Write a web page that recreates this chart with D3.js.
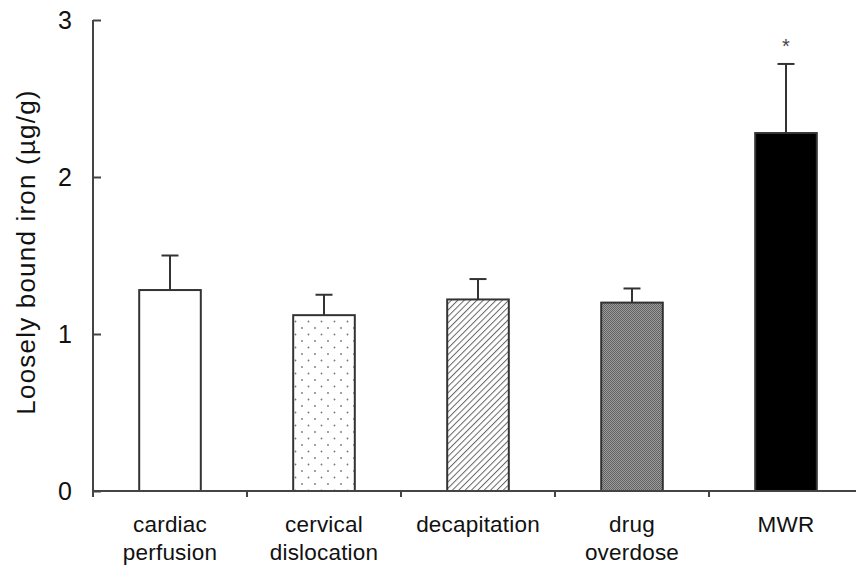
<!DOCTYPE html>
<html>
<head>
<meta charset="utf-8">
<script src="https://cdn.jsdelivr.net/npm/d3@7"></script>
<style>
  html, body { margin: 0; padding: 0; background: #fff; }
  svg { display: block; font-family: "Liberation Sans", Arial, sans-serif; }
</style>
</head>
<body>
<svg id="chart" width="856" height="573"></svg>
<script>
// ---- data ----
const categories = [["cardiac", "perfusion"], ["cervical", "dislocation"], ["decapitation"], ["drug", "overdose"], ["MWR"]];
const categoryKeys = ["cardiac perfusion", "cervical dislocation", "decapitation", "drug overdose", "MWR"];
const means = [1.28, 1.12, 1.22, 1.20, 2.28];
const errors = [0.22, 0.13, 0.13, 0.09, 0.44];
const significant = [false, false, false, false, true];
const yTicks = [0, 1, 2, 3];
const yLabel = "Loosely bound iron (µg/g)";

const svg = d3.select("#chart");
const mLeft = 93, mRight = 863, mTop = 20, mBottom = 491;

// patterns
const defs = svg.append("defs");
const dots = defs.append("pattern").attr("id", "dots").attr("patternUnits", "userSpaceOnUse")
  .attr("width", 13).attr("height", 13);
dots.append("rect").attr("width", 13).attr("height", 13).attr("fill", "#fff");
dots.append("circle").attr("cx", 3).attr("cy", 3).attr("r", 0.9).attr("fill", "#777");
dots.append("circle").attr("cx", 9.5).attr("cy", 9.5).attr("r", 0.9).attr("fill", "#777");

const hatch = defs.append("pattern").attr("id", "hatch").attr("patternUnits", "userSpaceOnUse")
  .attr("width", 4.5).attr("height", 4.5).attr("patternTransform", "rotate(45)");
hatch.append("rect").attr("width", 4.5).attr("height", 4.5).attr("fill", "#fff");
hatch.append("line").attr("x1", 0).attr("y1", 0).attr("x2", 0).attr("y2", 4.5)
  .attr("stroke", "#666").attr("stroke-width", 2);

const dense = defs.append("pattern").attr("id", "dense").attr("patternUnits", "userSpaceOnUse")
  .attr("width", 2).attr("height", 2);
dense.append("rect").attr("width", 2).attr("height", 2).attr("fill", "#9a9a9a");
dense.append("rect").attr("width", 1).attr("height", 1).attr("fill", "#636363");
dense.append("rect").attr("x", 1).attr("y", 1).attr("width", 1).attr("height", 1).attr("fill", "#636363");

const fills = ["#fff", "url(#dots)", "url(#hatch)", "url(#dense)", "#000"];

const x = d3.scaleBand().domain(categoryKeys).range([mLeft, mRight])
  .paddingInner(0.6).paddingOuter(0.3);
const y = d3.scaleLinear().domain([0, 3]).range([mBottom, mTop]);
const step = x.step();

// bars
const g = svg.append("g");
categoryKeys.forEach((k, i) => {
  const bx = x(k), bw = x.bandwidth(), cx = bx + bw / 2;
  g.append("line").attr("x1", cx).attr("x2", cx).attr("y1", y(means[i])).attr("y2", y(means[i] + errors[i]))
    .attr("stroke", "#333").attr("stroke-width", 2);
  g.append("line").attr("x1", cx - 8.5).attr("x2", cx + 8.5)
    .attr("y1", y(means[i] + errors[i])).attr("y2", y(means[i] + errors[i]))
    .attr("stroke", "#333").attr("stroke-width", 2);
  g.append("rect").attr("x", bx).attr("y", y(means[i])).attr("width", bw)
    .attr("height", y(0) - y(means[i])).attr("fill", fills[i])
    .attr("stroke", "#333").attr("stroke-width", 2);
  if (significant[i]) {
    g.append("text").attr("x", cx).attr("y", y(means[i] + errors[i]) - 11)
      .attr("text-anchor", "middle").attr("font-size", 20).attr("fill", "#444").text("*");
  }
});

// y axis
const yAxis = d3.axisLeft(y).tickValues(yTicks).tickFormat(d3.format("d")).tickSize(-8).tickPadding(21);
const ya = svg.append("g").attr("transform", `translate(${mLeft},0)`).call(yAxis);
ya.select(".domain").attr("stroke", "#444").attr("stroke-width", 2).attr("d", `M0,${mTop}V${mBottom + 6}`);
ya.selectAll(".tick line").attr("stroke", "#444").attr("stroke-width", 2);
ya.selectAll(".tick text").attr("font-size", 25).attr("fill", "#111")
  .attr("font-family", "Liberation Sans, Arial, sans-serif");

// x axis
const xa = svg.append("g").attr("transform", `translate(0,${mBottom})`);
xa.append("line").attr("x1", mLeft).attr("x2", mRight).attr("y1", 0).attr("y2", 0)
  .attr("stroke", "#444").attr("stroke-width", 2);
categoryKeys.slice(1).forEach(k => {
  const tx = x(k) - x.paddingInner() * step / 2;
  xa.append("line").attr("x1", tx).attr("x2", tx).attr("y1", 0).attr("y2", 6)
    .attr("stroke", "#444").attr("stroke-width", 2);
});
categoryKeys.forEach((k, i) => {
  const cx = x(k) + x.bandwidth() / 2;
  const t = xa.append("text").attr("text-anchor", "middle").attr("font-size", 22.5)
    .attr("letter-spacing", 0.2).attr("fill", "#111");
  categories[i].forEach((line, j) => {
    t.append("tspan").attr("x", cx).attr("y", 41 + j * 28).text(line);
  });
});

// y label
svg.append("text").attr("transform", `translate(35,252) rotate(-90)`)
  .attr("text-anchor", "middle").attr("font-size", 26).attr("letter-spacing", 1.2)
  .attr("fill", "#111").text(yLabel);
</script>
</body>
</html>
